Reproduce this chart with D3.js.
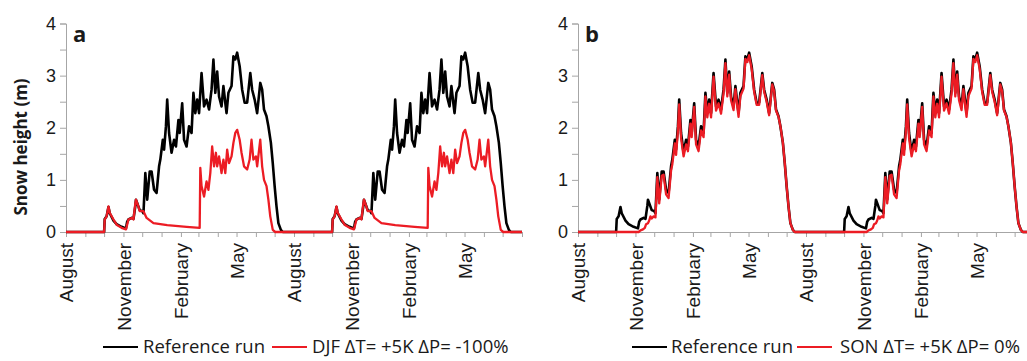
<!DOCTYPE html>
<html>
<head>
<meta charset="utf-8">
<script src="https://cdn.jsdelivr.net/npm/d3@7"></script>
<style>
  body { margin: 0; background: #fff; }
  svg { display: block; font-family: 'Open Sans', sans-serif; }
</style>
</head>
<body>
<svg id="chart" width="1027" height="361"></svg>
<script>
// day of season (0 = 1 August) and snow height (m)
var refDay  = [0, 61, 62, 65, 68, 70, 76, 81, 89, 96, 98, 100, 105, 108, 111, 112, 115, 118, 122, 124,
  127, 130, 134, 137, 141, 145, 149, 151, 155, 157, 160, 162, 165, 169, 173, 176, 180, 182, 186, 189,
  193, 197, 201, 204, 207, 210, 213, 217, 221, 225, 229, 233, 236, 239, 242, 245, 249, 252, 255, 257,
  260, 265, 268, 271, 274, 278, 282, 286, 290, 295, 298, 302, 306, 311, 314, 317, 321, 324, 328, 331,
  334, 337, 340, 344, 347, 365];
var refSnow = [0, 0, 0.25, 0.3, 0.48, 0.36, 0.22, 0.15, 0.1, 0.07, 0.2, 0.24, 0.27, 0.25, 0.5, 0.62, 0.52, 0.42, 0.4, 0.36,
  1.13, 0.62, 1.16, 1.16, 0.81, 0.75, 1.26, 1.39, 1.77, 1.58, 2.03, 2.54, 1.9, 1.52, 1.77, 1.64, 2.15, 1.9, 2.47, 1.77,
  1.64, 2.03, 1.9, 2.67, 2.28, 2.54, 2.28, 3.05, 2.41, 2.54, 2.35, 2.73, 3.31, 2.67, 3.08, 2.6, 2.41, 2.8, 2.48, 2.28,
  2.67, 2.8, 3.37, 3.31, 3.44, 3.18, 2.73, 2.48, 2.48, 3.05, 2.73, 2.54, 2.28, 2.86, 2.73, 2.35, 2.22, 2.03, 1.71, 1.32,
  0.88, 0.49, 0.17, 0.04, 0, 0];

var djfDay  = [0, 61, 62, 65, 68, 70, 76, 81, 89, 96, 100, 105, 108, 111, 112, 115, 118, 124, 129, 140,
  162, 193, 214, 215, 217, 221, 225, 228, 231, 234, 237, 240, 242, 245, 249, 252, 255, 258, 261, 265,
  268, 271, 274, 278, 281, 285, 290, 294, 297, 300, 304, 306, 311, 314, 317, 321, 324, 327, 331, 335, 365];
var djfSnow = [0, 0, 0.24, 0.3, 0.49, 0.37, 0.24, 0.14, 0.08, 0.05, 0.24, 0.27, 0.24, 0.55, 0.62, 0.52, 0.4, 0.4, 0.27, 0.17,
  0.13, 0.1, 0.08, 1.23, 0.88, 0.68, 0.97, 0.81, 1.13, 1.64, 1.26, 1.52, 1.26, 1.45, 1.13, 1.39, 1.13, 1.58, 1.32, 1.45,
  1.71, 1.9, 1.96, 1.77, 1.52, 1.26, 1.2, 1.39, 1.77, 1.39, 1.45, 1.26, 1.77, 1.26, 1.0, 0.88, 0.62, 0.3, 0.04, 0, 0];

var sonDay  = [0, 97, 100, 104, 107, 109, 112, 114, 116, 118, 121, 124, 127, 130, 134, 137, 141, 145, 149, 151,
  155, 157, 160, 162, 165, 169, 173, 176, 180, 182, 186, 189, 193, 197, 201, 204, 207, 210, 213, 217,
  221, 225, 229, 233, 236, 239, 242, 245, 249, 252, 255, 257, 260, 265, 268, 271, 274, 278, 282, 286,
  290, 295, 298, 302, 306, 311, 314, 317, 321, 324, 328, 331, 334, 337, 340, 344, 347, 365];
var sonSnow = [0, 0, 0.03, 0.05, 0.08, 0.15, 0.17, 0.22, 0.3, 0.26, 0.3, 0.28, 1.05, 0.55, 1.08, 1.1, 0.72, 0.65, 1.18, 1.3,
  1.7, 1.48, 1.95, 2.45, 1.8, 1.45, 1.68, 1.55, 2.08, 1.82, 2.4, 1.68, 1.55, 1.95, 1.82, 2.6, 2.2, 2.46, 2.2, 2.98,
  2.33, 2.47, 2.27, 2.66, 3.24, 2.6, 3.02, 2.53, 2.34, 2.74, 2.41, 2.21, 2.61, 2.75, 3.32, 3.26, 3.39, 3.13, 2.69, 2.44,
  2.44, 3.01, 2.69, 2.5, 2.24, 2.83, 2.7, 2.33, 2.21, 2.03, 1.71, 1.32, 0.88, 0.49, 0.17, 0.04, 0, 0];

var snowTicks = [0, 0.5, 1, 1.5, 2, 2.5, 3, 3.5, 4];
var labelMonths = ['August', 'November', 'February', 'May'];
var seriesNames = ['Reference run', 'DJF ΔT= +5K ΔP= -100%', 'SON ΔT= +5K ΔP= 0%'];

const start = new Date(Date.UTC(2001, 7, 1));
const end = new Date(Date.UTC(2003, 7, 1));
const textColor = '#1a1a1a', axisColor = '#a6a6a6', red = '#ec1c24';

// layout of the two panels
var panels = [
  { left: 66, letter: 'a', days: djfDay, snow: djfSnow, name: seriesNames[1],
    legend: [103, 143, 272, 312] },
  { left: 578, letter: 'b', days: sonDay, snow: sonSnow, name: seriesNames[2],
    legend: [632, 671, 797, 840] }
];

const svg = d3.select('#chart');

//Turns a season into points for both years
function twoYears(days, snow) {
  var pts = [];
  [0, 365].forEach(function(off) {
    days.forEach(function(d, i) {
      pts.push({ date: d3.utcDay.offset(start, d + off), v: snow[i] });
    });
  });
  return pts;
}

panels.forEach(function(p) {
  const g = svg.append('g');
  const x = d3.scaleUtc().domain([start, end]).range([p.left, p.left + 456]);
  const y = d3.scaleLinear().domain([0, 4]).range([232, 23.5]);

  const yAxis = g.append('g')
    .attr('transform', 'translate(' + p.left + ',0)')
    .call(d3.axisLeft(y).tickValues(snowTicks).tickSize(6).tickPadding(4)
      .tickFormat(function(d) { return Number.isInteger(d) ? d : ''; }));
  yAxis.selectAll('text').style('font-size', '18px').style('fill', textColor);

  const xAxis = g.append('g')
    .attr('transform', 'translate(0,232)')
    .call(d3.axisBottom(x).ticks(d3.utcMonth.every(1)).tickSize(5)
      .tickFormat(function(d) {
        var m = d3.utcFormat('%B')(d);
        return (labelMonths.indexOf(m) > -1 && d < end) ? m : '';
      }));
  xAxis.selectAll('text')
    .attr('transform', 'rotate(-90)')
    .attr('x', -11)
    .attr('y', 0)
    .attr('dy', '0.35em')
    .style('text-anchor', 'end')
    .style('font-size', '19px')
    .style('fill', textColor);

  g.selectAll('.domain, .tick line').attr('stroke', axisColor);

  const line = d3.line()
    .x(function(d) { return x(d.date); })
    .y(function(d) { return y(d.v); });

  g.append('path')
    .datum(twoYears(refDay, refSnow))
    .attr('fill', 'none')
    .attr('stroke', '#000')
    .attr('stroke-width', 2.6)
    .attr('stroke-linejoin', 'round')
    .attr('d', line);

  g.append('path')
    .datum(twoYears(p.days, p.snow))
    .attr('fill', 'none')
    .attr('stroke', red)
    .attr('stroke-width', 2.3)
    .attr('stroke-linejoin', 'round')
    .attr('d', line);

  g.append('text')
    .attr('x', p.left + 7)
    .attr('y', 42)
    .style('font-size', '22px')
    .style('font-weight', 'bold')
    .style('fill', textColor)
    .text(p.letter);

  //Legend
  var lg = p.legend;
  g.append('line').attr('x1', lg[0]).attr('x2', lg[0] + 35).attr('y1', 347).attr('y2', 347)
    .attr('stroke', '#000').attr('stroke-width', 2);
  g.append('text').attr('x', lg[1]).attr('y', 353).style('font-size', '18.5px').style('fill', textColor)
    .text(seriesNames[0]);
  g.append('line').attr('x1', lg[2]).attr('x2', lg[2] + 35).attr('y1', 347).attr('y2', 347)
    .attr('stroke', red).attr('stroke-width', 2);
  g.append('text').attr('x', lg[3]).attr('y', 353).style('font-size', '18.5px').style('fill', textColor)
    .text(p.name);
});

svg.append('text')
  .attr('transform', 'translate(21,147) rotate(-90)')
  .attr('dy', '0.35em')
  .style('text-anchor', 'middle')
  .style('font-size', '17px')
  .style('font-weight', 'bold')
  .style('fill', textColor)
  .text('Snow height (m)');
</script>
</body>
</html>
